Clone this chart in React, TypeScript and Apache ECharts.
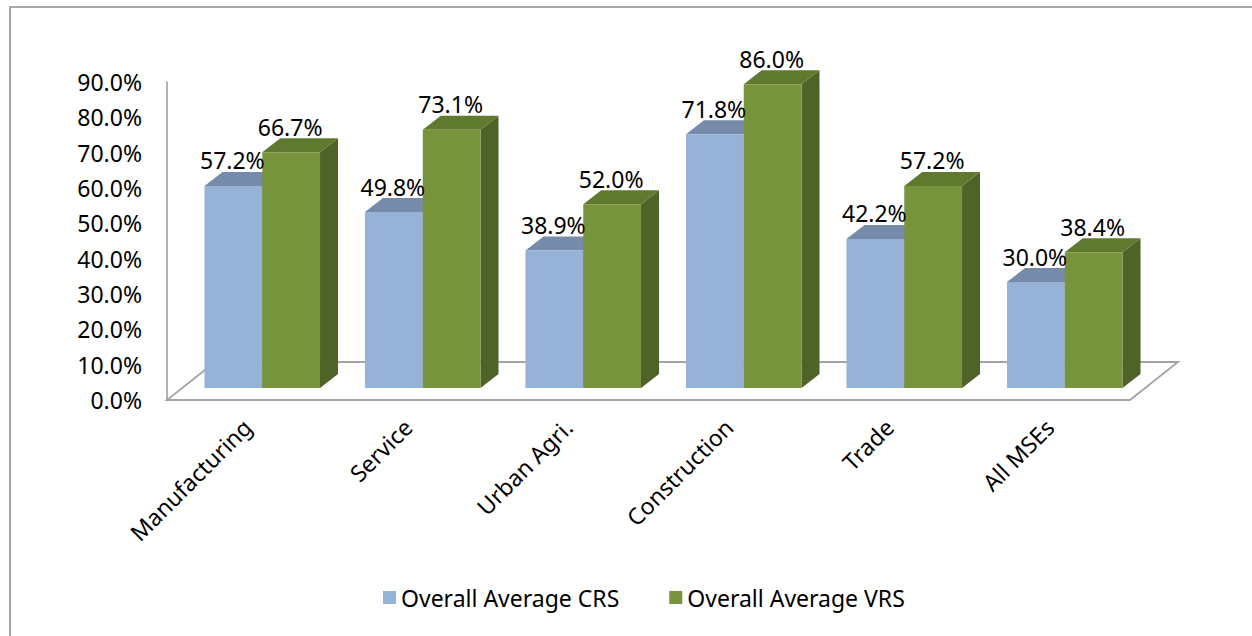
import React, { useEffect, useRef } from "react";
import * as echarts from "echarts";

const categories = ["Manufacturing", "Service", "Urban Agri.", "Construction", "Trade", "All MSEs"];
const crsValues = [57.2, 49.8, 38.9, 71.8, 42.2, 30.0];
const vrsValues = [66.7, 73.1, 52.0, 86.0, 57.2, 38.4];
const seriesNames = ["Overall Average CRS", "Overall Average VRS"];
const yTicks = [0, 10, 20, 30, 40, 50, 60, 70, 80, 90];

const FONT = "Noto Sans";
const FS = 23;
const OFFX = 15;
const OFFY = -12;
const DX = 18;
const DY = -14;
const BAR_RATIO = 0.36;

const palettes = [
  { front: "#95B3D7", top: "#768BA9", side: "#6F829E" },
  { front: "#77933C", top: "#5F7A2F", side: "#4F6228" },
];

function barRenderer(si: number) {
  return (params: any, api: any) => {
    const idx = api.value(0);
    const val = api.value(1);
    const base = api.coord([idx, 0]);
    const top = api.coord([idx, val]);
    const band = api.size([1, 0])[0];
    const bw = band * BAR_RATIO;
    const cx = base[0] + OFFX;
    const x0 = si === 0 ? cx - bw : cx;
    const yb = base[1] + OFFY;
    const yt = top[1] + OFFY;
    const p = palettes[si];
    return {
      type: "group",
      children: [
        {
          type: "polygon",
          shape: { points: [[x0 + bw, yt], [x0 + bw + DX, yt + DY], [x0 + bw + DX, yb + DY], [x0 + bw, yb]] },
          style: { fill: p.side },
        },
        {
          type: "polygon",
          shape: { points: [[x0, yt], [x0 + bw, yt], [x0 + bw + DX, yt + DY], [x0 + DX, yt + DY]] },
          style: { fill: p.top },
        },
        {
          type: "rect",
          shape: { x: x0, y: yt, width: bw, height: yb - yt },
          style: { fill: p.front },
        },
      ],
    };
  };
}

function labelRenderer(si: number) {
  return (params: any, api: any) => {
    const idx = api.value(0);
    const val = api.value(1);
    const base = api.coord([idx, 0]);
    const top = api.coord([idx, val]);
    const band = api.size([1, 0])[0];
    const bw = band * BAR_RATIO;
    const cx = base[0] + OFFX;
    const x0 = si === 0 ? cx - bw : cx;
    const yt = top[1] + OFFY;
    return {
      type: "text",
      x: x0 + bw / 2 - 1,
      y: yt + DY,
      style: {
        text: val.toFixed(1) + "%",
        fill: "#000",
        font: `${FS}px "${FONT}"`,
        textAlign: "center",
        textVerticalAlign: "bottom",
      },
    };
  };
}

export default function App() {
  const ref = useRef<HTMLDivElement>(null);
  useEffect(() => {
    if (!ref.current) return;
    const chart = echarts.init(ref.current, null, { renderer: "svg" });
    const valueSets = [crsValues, vrsValues];
    const series: any[] = [];
    valueSets.forEach((vals, si) => {
      series.push({
        type: "custom",
        name: seriesNames[si],
        renderItem: barRenderer(si),
        data: vals.map((v, i) => [i, v]),
        itemStyle: { color: palettes[si].front },
        z: 2 + si,
        encode: { x: 0, y: 1 },
      });
    });
    valueSets.forEach((vals, si) => {
      series.push({
        type: "custom",
        name: "label" + si,
        renderItem: labelRenderer(si),
        data: vals.map((v, i) => [i, v]),
        z: 10,
        silent: true,
        encode: { x: 0, y: 1 },
      });
    });
    chart.setOption({
      animation: false,
      backgroundColor: "#fff",
      textStyle: { fontFamily: FONT },
      grid: { left: 167, right: 122, top: 82, bottom: 236, containLabel: false },
      legend: {
        data: seriesNames,
        bottom: 22,
        left: 378,
        itemWidth: 13,
        itemHeight: 13,
        itemGap: 50,
        icon: "rect",
        textStyle: { fontSize: FS, color: "#000", fontFamily: FONT },
      },
      xAxis: {
        type: "category",
        data: categories,
        axisLine: { show: false },
        axisTick: { show: false },
        axisLabel: { rotate: 45, margin: 23, fontSize: FS, color: "#000", fontFamily: FONT, interval: 0 },
      },
      yAxis: {
        type: "value",
        min: yTicks[0],
        max: yTicks[yTicks.length - 1],
        interval: 10,
        axisLine: { show: true, lineStyle: { color: "#9a9a9a", width: 1.5 } },
        axisTick: { show: false },
        splitLine: { show: false },
        axisLabel: {
          margin: 25,
          fontSize: FS,
          color: "#000",
          fontFamily: FONT,
          formatter: (v: number) => v.toFixed(1) + "%",
        },
      },
      graphic: [
        {
          type: "rect",
          shape: { x: 10, y: 7, width: 1260, height: 660 },
          style: { fill: "none", stroke: "#8c8c8c", lineWidth: 1.5 },
          z: 0,
        },
        {
          type: "polygon",
          shape: { points: [[167, 400], [1130, 400], [1178, 362], [215, 362]] },
          style: { fill: "none", stroke: "#a3a3a3", lineWidth: 1.8 },
          z: 0,
        },
      ],
      series,
    });
    return () => chart.dispose();
  }, []);
  return <div ref={ref} style={{ position: "fixed", left: 0, top: 0, width: 1252, height: 636 }} />;
}
